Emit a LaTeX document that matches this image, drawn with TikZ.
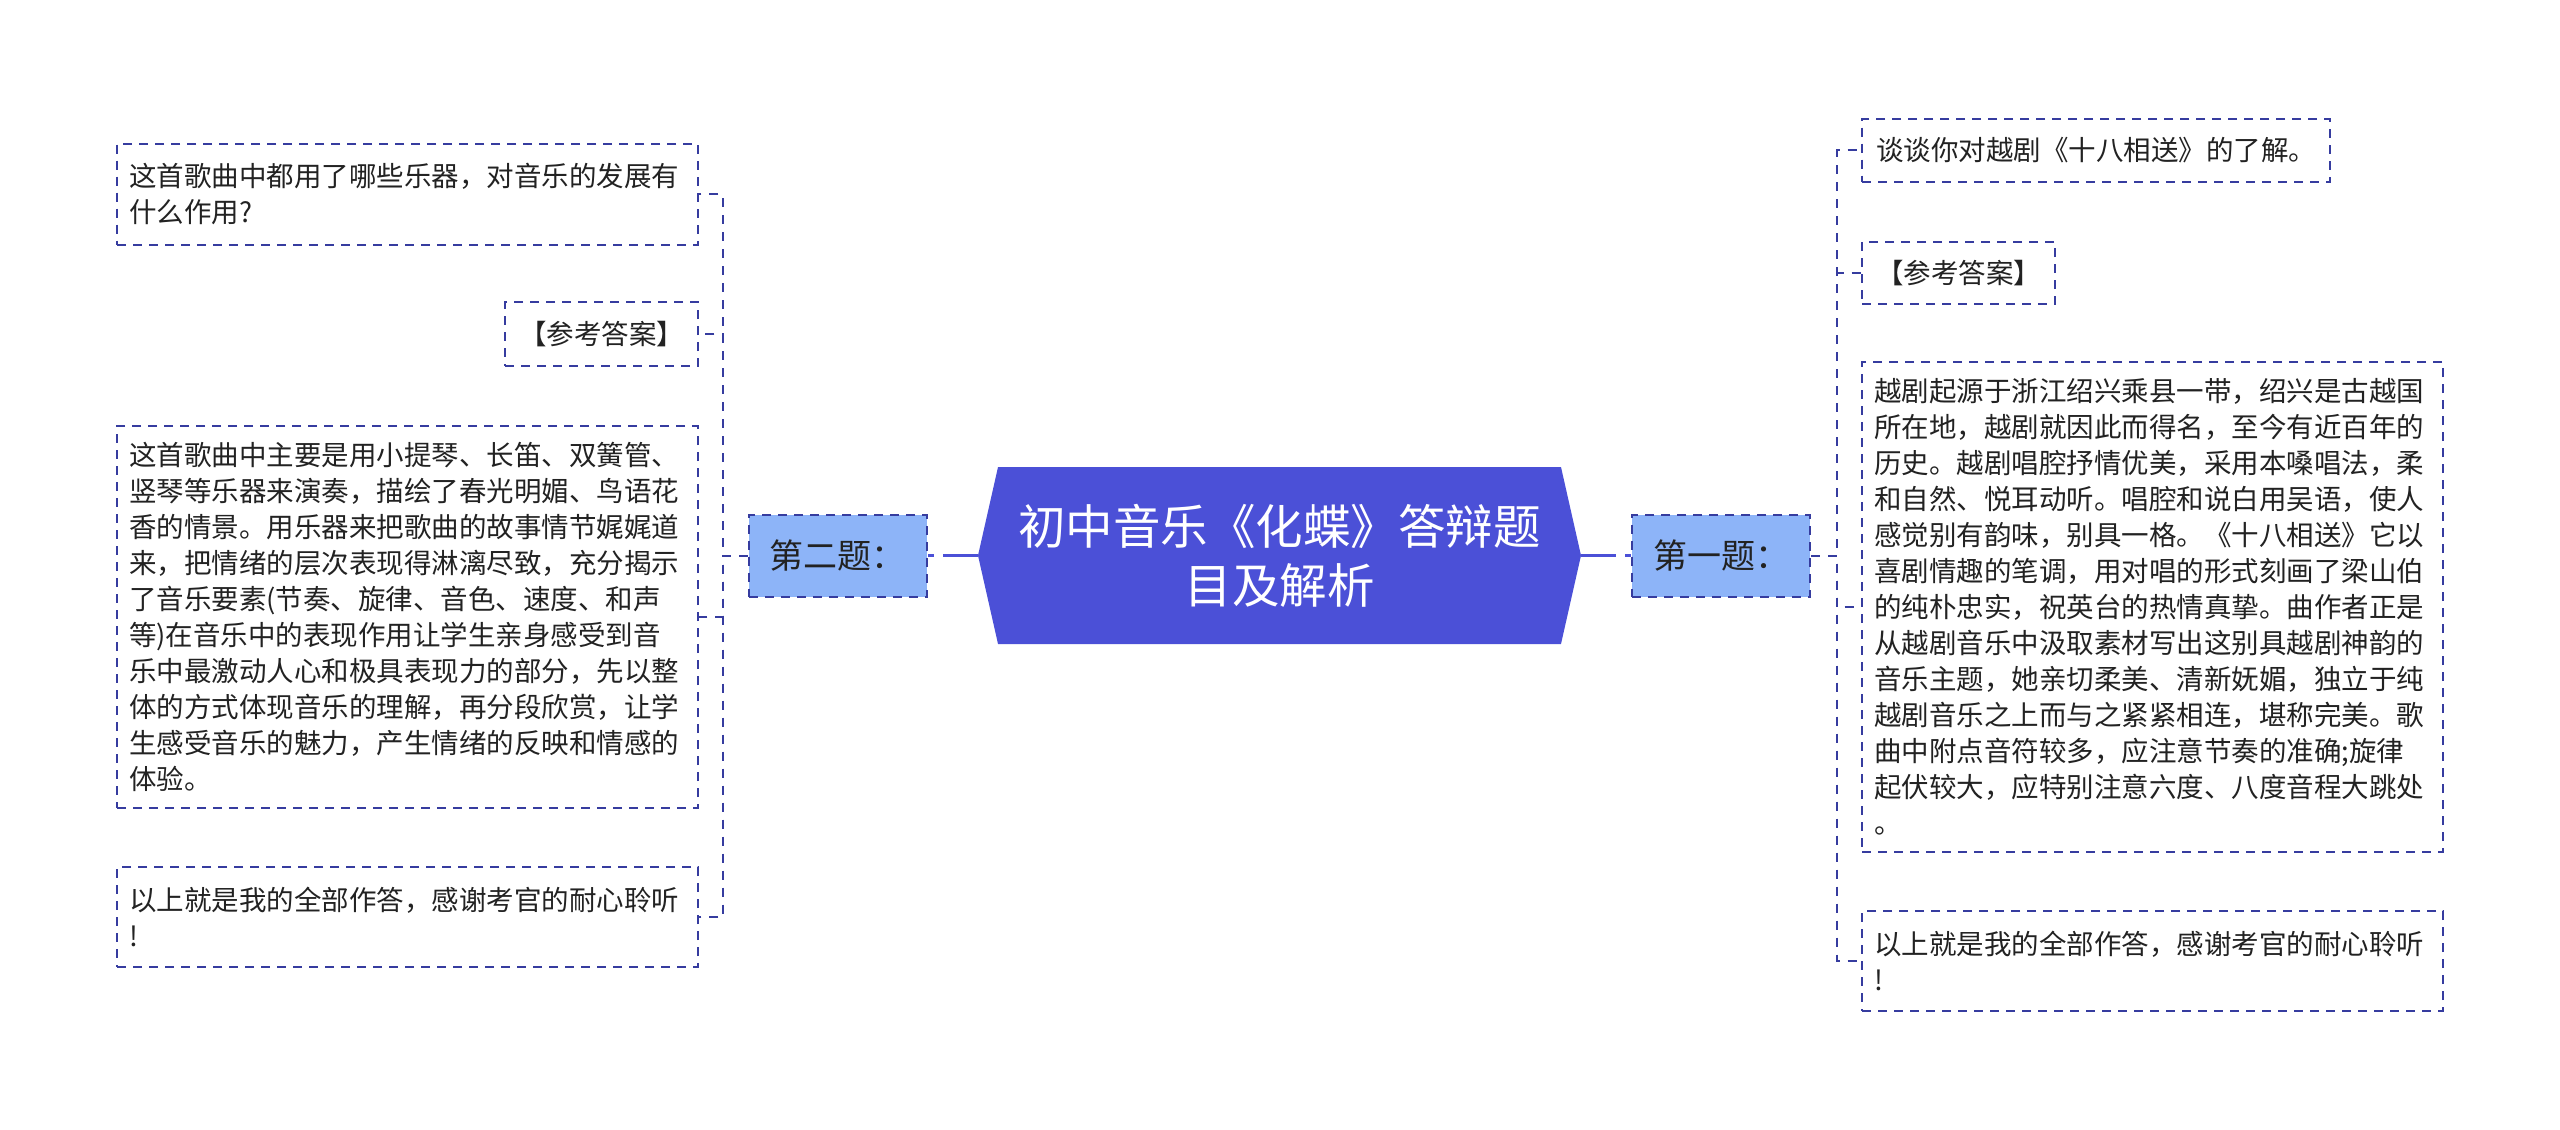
\documentclass[tikz,border=0pt]{standalone}
\usepackage{fontspec}
\setmainfont{Noto Sans CJK SC}
\usepackage{tikz}
\usetikzlibrary{shapes.symbols,positioning}
\usepackage{xcolor}
\definecolor{hubblue}{HTML}{4B50D7}
\definecolor{topicblue}{HTML}{8DB4F8}
\definecolor{edgenavy}{HTML}{363C9F}
\definecolor{inkgray}{HTML}{222222}

\begin{document}
\begin{tikzpicture}[
    x=1pt, y=-1pt,
    node distance=50pt,
    hub/.style={shape=signal, signal to=west and east, signal pointer angle=154.5, fill=hubblue, text=white, minimum width=603pt, minimum height=177pt, align=center, inner sep=0pt, font=\fontsize{47.5}{59}\selectfont},
    topic/.style={rectangle, draw=edgenavy, fill=topicblue, line width=2pt, dash pattern=on 9pt off 7pt, minimum width=178pt, minimum height=82pt, text=inkgray, font=\fontsize{34}{40}\selectfont},
    leaf/.style={rectangle, draw=edgenavy, line width=2pt, dash pattern=on 9pt off 7pt, inner xsep=14pt, inner ysep=6pt, text=inkgray, font=\fontsize{27.5}{36}\selectfont},
    wide/.style={leaf, text width=557pt, align=left, inner xsep=12pt},
    spoke/.style={hubblue, line width=3pt, dash pattern=on 35pt off 9pt},
    link/.style={edgenavy, line width=2pt, dash pattern=on 9pt off 8pt}
]
    \fill[white] (0,0) rectangle (2560,1130);
    \useasboundingbox (0,0) rectangle (2560,1130);

    % centre and the two questions
    \node[hub] (hub) at (1279.5,555.5) {初中音乐《化蝶》答辩题\\目及解析};
    \node[topic, left=of hub] (q2) {第二题：};
    \node[topic, right=of hub] (q1) {第一题：};

    % left branch
    \node[wide, anchor=east, minimum height=101pt] (l1) at (699,194) {这首歌曲中都用了哪些乐器，对音乐的发展有\\什么作用?};
    \node[leaf, anchor=east, minimum height=64pt] (l2) at (699,334) {【参考答案】};
    \node[wide, anchor=east, minimum height=382pt] (l3) at (699,617) {这首歌曲中主要是用小提琴、长笛、双簧管、\\竖琴等乐器来演奏，描绘了春光明媚、鸟语花\\香的情景。用乐器来把歌曲的故事情节娓娓道\\来，把情绪的层次表现得淋漓尽致，充分揭示\\了音乐要素(节奏、旋律、音色、速度、和声\\等)在音乐中的表现作用让学生亲身感受到音\\乐中最激动人心和极具表现力的部分，先以整\\体的方式体现音乐的理解，再分段欣赏，让学\\生感受音乐的魅力，产生情绪的反映和情感的\\体验。};
    \node[wide, anchor=east, minimum height=100pt] (l4) at (699,917) {以上就是我的全部作答，感谢考官的耐心聆听\\!};

    % right branch
    \node[leaf, anchor=west, minimum height=63pt] (r1) at (1861,150) {谈谈你对越剧《十八相送》的了解。};
    \node[leaf, anchor=west, minimum height=62pt] (r2) at (1861,273) {【参考答案】};
    \node[wide, anchor=west, minimum height=490pt] (r3) at (1861,607) {越剧起源于浙江绍兴乘县一带，绍兴是古越国\\所在地，越剧就因此而得名，至今有近百年的\\历史。越剧唱腔抒情优美，采用本嗓唱法，柔\\和自然、悦耳动听。唱腔和说白用吴语，使人\\感觉别有韵味，别具一格。《十八相送》它以\\喜剧情趣的笔调，用对唱的形式刻画了梁山伯\\的纯朴忠实，祝英台的热情真挚。曲作者正是\\从越剧音乐中汲取素材写出这别具越剧神韵的\\音乐主题，她亲切柔美、清新妩媚，独立于纯\\越剧音乐之上而与之紧紧相连，堪称完美。歌\\曲中附点音符较多，应注意节奏的准确;旋律\\起伏较大，应特别注意六度、八度音程大跳处\\。};
    \node[wide, anchor=west, minimum height=100pt] (r4) at (1861,961) {以上就是我的全部作答，感谢考官的耐心聆听\\!};

    \draw[spoke] (hub.west) -- (q2.east);
    \draw[spoke] (hub.east) -- (q1.west);

    \foreach \leafname in {l1,l2,l3,l4}
        \draw[link] (q2.west) -- ++(-25,0) |- (\leafname.east);
    \foreach \leafname in {r1,r2,r3,r4}
        \draw[link] (q1.east) -- ++(26,0) |- (\leafname.west);
\end{tikzpicture}
\end{document}
